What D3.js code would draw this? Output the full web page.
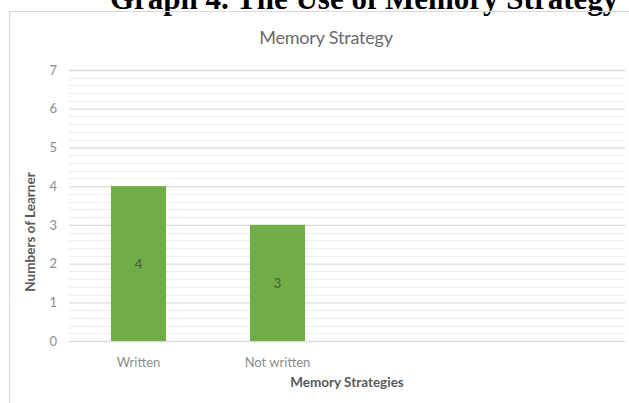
<!DOCTYPE html>
<html>
<head>
<meta charset="utf-8">
<script src="https://cdn.jsdelivr.net/npm/d3@7"></script>
<style>
  html, body { margin: 0; padding: 0; background: #fff; }
  svg { display: block; }
</style>
</head>
<body>
<svg id="chart" width="629" height="403"></svg>
<script>
// ---- data ----
const heading = "Graph 4. The Use of Memory Strategy";
const chartTitle = "Memory Strategy";
const xAxisTitle = "Memory Strategies";
const yAxisTitle = "Numbers of Learner";
const categories = ["Written", "Not written", "", ""];
const values = [4, 3, null, null];
const yTicks = [0, 1, 2, 3, 4, 5, 6, 7];
const yMax = 7;
const minorStep = 0.2;

// ---- layout ----
const W = 629, H = 403;
const plot = { left: 69, right: 625, top: 70, bottom: 341 };
const font = "Lato, 'Open Sans', sans-serif";
const svg = d3.select("#chart");

svg.append("rect").attr("width", W).attr("height", H).attr("fill", "#fff");

// heading (document caption, partly clipped at top as in the source image)
svg.append("text")
  .attr("x", 110).attr("y", 9)
  .attr("font-family", "'Liberation Serif', 'Times New Roman', serif")
  .attr("font-weight", "bold").attr("font-size", 31)
  .attr("fill", "#000")
  .text(heading);

// chart area border
svg.append("path")
  .attr("d", `M9.5,${H + 2} V11.5 H${W + 2}`)
  .attr("fill", "none").attr("stroke", "#d9d9d9").attr("stroke-width", 1.2);

const x = d3.scaleBand()
  .domain(d3.range(categories.length))
  .range([plot.left, plot.right])
  .paddingInner(0.604).paddingOuter(0.302);

const y = d3.scaleLinear().domain([0, yMax]).range([plot.bottom, plot.top]);

// minor gridlines
const minorTicks = d3.range(0, yMax + 1e-9, minorStep).filter(v => Math.abs(v - Math.round(v)) > 1e-6);
svg.append("g").selectAll("line").data(minorTicks).join("line")
  .attr("x1", plot.left).attr("x2", plot.right)
  .attr("y1", d => Math.round(y(d)) + 0.5).attr("y2", d => Math.round(y(d)) + 0.5)
  .attr("stroke", "#eeeeee").attr("stroke-width", 1);

// major gridlines via axis
const yAxis = d3.axisLeft(y).tickValues(yTicks).tickFormat(d3.format("d"))
  .tickSize(-(plot.right - plot.left)).tickPadding(12);
const gy = svg.append("g").attr("transform", `translate(${plot.left},0)`).call(yAxis);
gy.select(".domain").remove();
gy.selectAll(".tick line").attr("stroke", "#dcdcdc").attr("stroke-width", 1.3);
gy.selectAll(".tick text")
  .attr("font-family", font).attr("font-size", 13).attr("fill", "#8c8c8c");

// bars
svg.append("g").selectAll("rect")
  .data(values.map((v, i) => ({ v, i })).filter(d => d.v != null))
  .join("rect")
  .attr("x", d => x(d.i)).attr("width", x.bandwidth())
  .attr("y", d => y(d.v)).attr("height", d => y(0) - y(d.v))
  .attr("fill", "#70ad47");

// data labels
svg.append("g").selectAll("text")
  .data(values.map((v, i) => ({ v, i })).filter(d => d.v != null))
  .join("text")
  .attr("x", d => x(d.i) + x.bandwidth() / 2)
  .attr("y", d => (y(d.v) + y(0)) / 2 + 5)
  .attr("text-anchor", "middle")
  .attr("font-family", font).attr("font-size", 13).attr("fill", "#4a5a3a")
  .text(d => d.v);

// x axis
const xAxis = d3.axisBottom(x).tickFormat(i => categories[i]).tickSize(0).tickPadding(17);
const gx = svg.append("g").attr("transform", `translate(0,${plot.bottom})`).call(xAxis);
gx.select(".domain").remove();
gx.selectAll(".tick text")
  .attr("font-family", font).attr("font-size", 13).attr("fill", "#8c8c8c");

// chart title
svg.append("text")
  .attr("x", 326).attr("y", 44)
  .attr("text-anchor", "middle")
  .attr("font-family", font).attr("font-size", 18).attr("fill", "#6a6a6a")
  .attr("letter-spacing", -0.2)
  .text(chartTitle);

// axis titles
svg.append("text")
  .attr("x", (plot.left + plot.right) / 2).attr("y", 387)
  .attr("text-anchor", "middle")
  .attr("font-family", font).attr("font-size", 13.5).attr("font-weight", "bold").attr("fill", "#595959")
  .text(xAxisTitle);

svg.append("text")
  .attr("transform", "translate(35,232) rotate(-90)")
  .attr("text-anchor", "middle")
  .attr("font-family", font).attr("font-size", 13.5).attr("font-weight", "bold").attr("fill", "#595959")
  .text(yAxisTitle);
</script>
</body>
</html>
